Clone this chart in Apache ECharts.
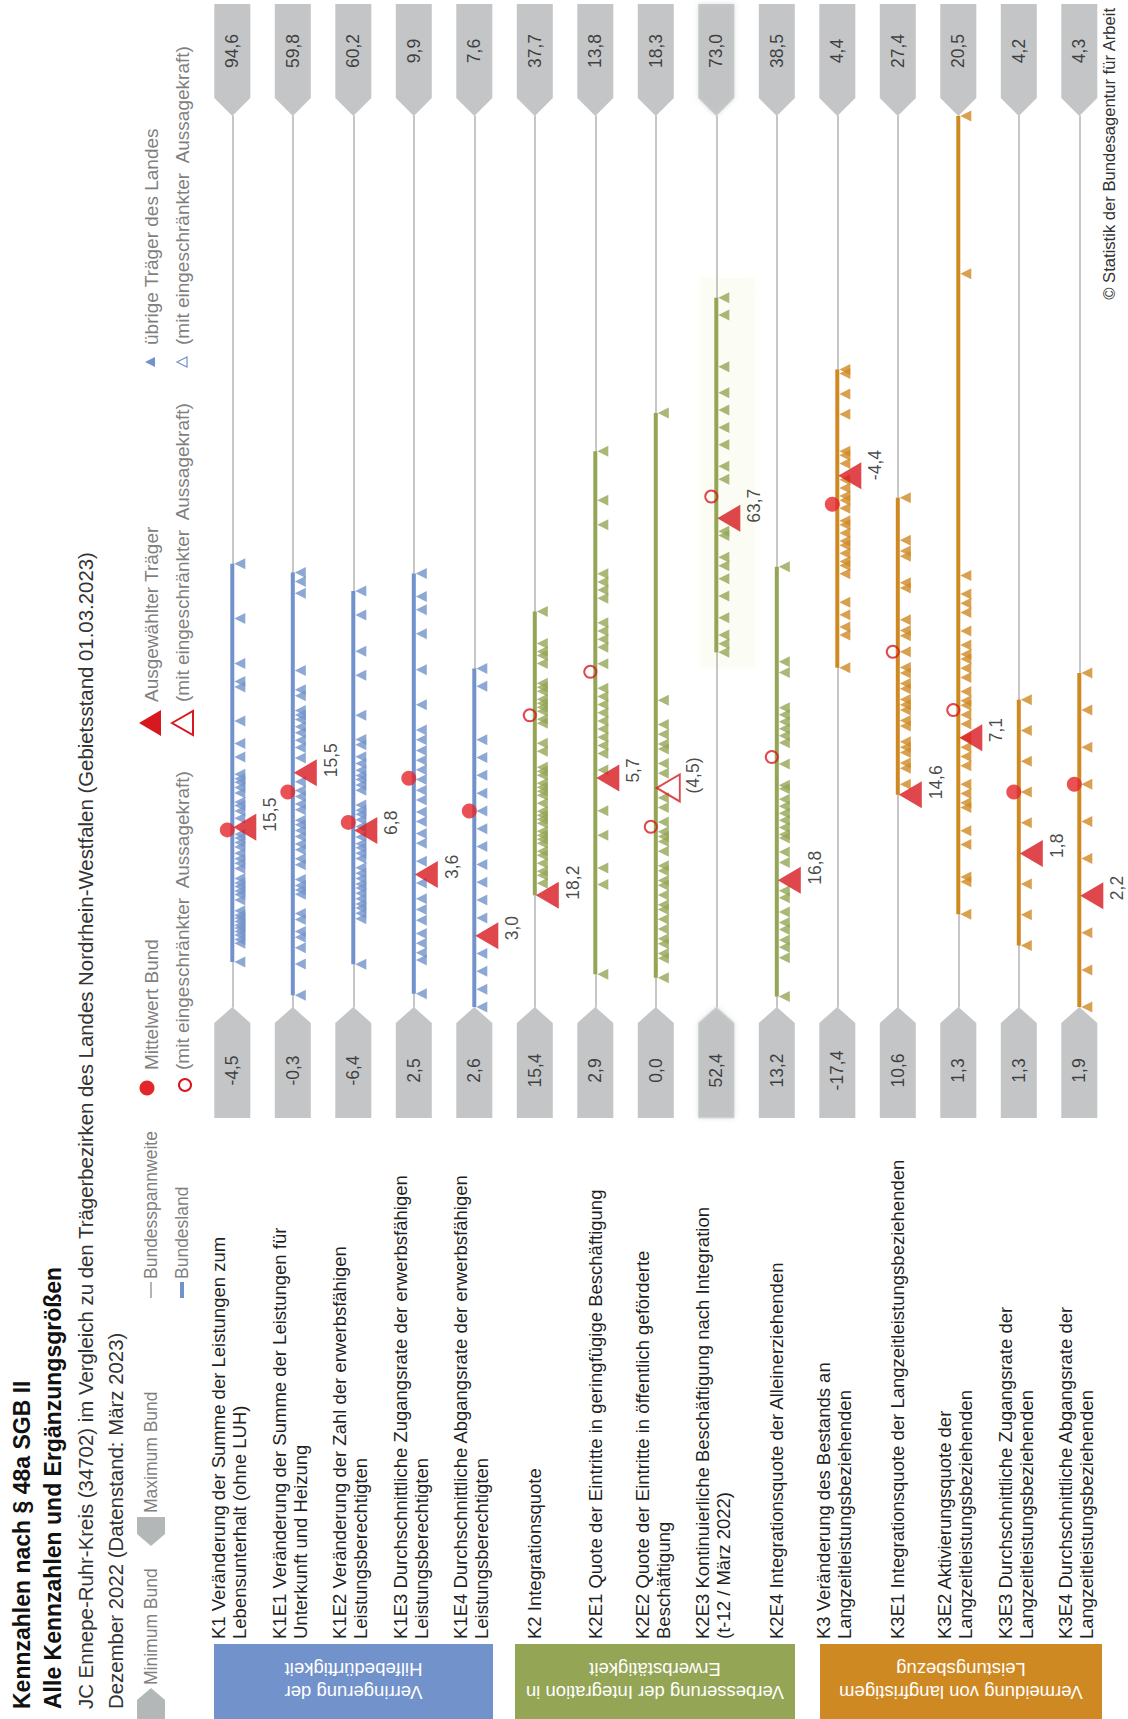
<!DOCTYPE html>
<html>
<head>
<meta charset="utf-8">
<script src="https://cdn.jsdelivr.net/npm/echarts@6/dist/echarts.min.js"></script>
<style>
html, body { margin: 0; padding: 0; background: #fff; overflow: hidden; width: 1128px; height: 1719px; }
#stage { position: absolute; left: 0; top: 0; width: 1719px; height: 1128px; transform-origin: 0 0; transform: translate(0, 1719px) rotate(-90deg); }
</style>
</head>
<body>
<div id="stage"></div>
<script>
// Kennzahlen (one row each), Bundes-Minimum / -Maximum, ausgewählter Träger, Mittelwert Bund
const rowLabels = [
  'K1 Veränderung der Summe der Leistungen zum\nLebensunterhalt (ohne LUH)',
  'K1E1 Veränderung der Summe der Leistungen für\nUnterkunft und Heizung',
  'K1E2 Veränderung der Zahl der erwerbsfähigen\nLeistungsberechtigten',
  'K1E3 Durchschnittliche Zugangsrate der erwerbsfähigen\nLeistungsberechtigten',
  'K1E4 Durchschnittliche Abgangsrate der erwerbsfähigen\nLeistungsberechtigten',
  'K2 Integrationsquote',
  'K2E1 Quote der Eintritte in geringfügige Beschäftigung',
  'K2E2 Quote der Eintritte in öffentlich geförderte\nBeschäftigung',
  'K2E3 Kontinuierliche Beschäftigung nach Integration\n(t-12 / März 2022)',
  'K2E4 Integrationsquote der Alleinerziehenden',
  'K3 Veränderung des Bestands an\nLangzeitleistungsbeziehenden',
  'K3E1 Integrationsquote der Langzeitleistungsbeziehenden',
  'K3E2 Aktivierungsquote der\nLangzeitleistungsbeziehenden',
  'K3E3 Durchschnittliche Zugangsrate der\nLangzeitleistungsbeziehenden',
  'K3E4 Durchschnittliche Abgangsrate der\nLangzeitleistungsbeziehenden',
]
const groupLabels = [
  'Verringerung der\nHilfebedürftigkeit',
  'Verbesserung der Integration in\nErwerbstätigkeit',
  'Vermeidung von langfristigem\nLeistungsbezug',
]
const rowGroup = [0, 0, 0, 0, 0, 1, 1, 1, 1, 1, 2, 2, 2, 2, 2]

const minBund = [-4.5, -0.3, -6.4, 2.5, 2.6, 15.4, 2.9, 0.0, 52.4, 13.2, -17.4, 10.6, 1.3, 1.3, 1.9]
const maxBund = [94.6, 59.8, 60.2, 9.9, 7.6, 37.7, 13.8, 18.3, 73.0, 38.5, 4.4, 27.4, 20.5, 4.2, 4.3]
const selected = [15.5, 15.5, 6.8, 3.6, 3.0, 18.2, 5.7, 4.5, 63.7, 16.8, -4.4, 14.6, 7.1, 1.8, 2.2]
const selectedLimited = [0, 0, 0, 0, 0, 0, 0, 1, 0, 0, 0, 0, 0, 0, 0]
const meanBund = [15.2, 14.2, 7.4, 4.4, 3.7, 22.7, 7.0, 3.7, 64.2, 20.3, -5.1, 17.3, 7.7, 2.0, 2.5]
const meanLimited = [0, 0, 0, 0, 0, 1, 1, 1, 1, 1, 0, 1, 1, 0, 0]

// übrige Träger des Landes, je Kennzahl
const trK1 = [44.8, 38.7, 33.7, 31.7, 31.1, 27.3, 24.8, 23.3, 21.4, 20.9, 20.5, 19.9, 19.3, 18.3, 17.9, 17.3, 16.5, 14.7, 14.3, 13.8, 13.3, 12.6, 12.0, 11.5, 10.9, 9.8, 9.3, 8.9, 8.4, 8.0, 7.4, 6.2, 5.7, 5.4, 5.0, 4.6, 4.3, 3.9, 3.5, 3.0, 2.6, 0.5]
const trK1E1 = [29.0, 28.4, 27.6, 22.4, 21.1, 20.7, 19.7, 19.4, 19.1, 18.6, 18.2, 17.7, 17.2, 16.5, 14.9, 14.3, 13.9, 13.4, 13.0, 12.3, 12.0, 11.6, 11.2, 10.7, 10.3, 9.7, 9.3, 8.3, 7.9, 7.6, 7.3, 6.0, 5.6, 4.8, 4.4, 3.7, 2.6, 0.5]
const trK1E2 = [24.7, 22.9, 20.2, 18.4, 15.4, 13.6, 13.2, 12.3, 11.8, 11.3, 10.9, 10.6, 10.2, 9.8, 8.7, 8.3, 8.0, 7.6, 7.1, 6.3, 5.8, 5.5, 5.1, 4.7, 4.0, 3.6, 3.2, 2.8, 2.5, 2.1, 1.7, 1.3, 1.0, 0.6, 0.2, -3.2]
const trK1E3 = [6.10, 5.91, 5.80, 5.60, 5.30, 5.01, 4.80, 4.72, 4.63, 4.55, 4.47, 4.39, 4.30, 4.22, 4.12, 4.04, 3.94, 3.86, 3.71, 3.53, 3.40, 3.31, 3.22, 3.11, 3.03, 2.95, 2.89, 2.61]
const trK1E4 = [4.5, 4.4, 4.1, 4.0, 3.9, 3.8, 3.7, 3.6, 3.5, 3.4, 3.3, 3.2, 3.1, 2.9, 2.8, 2.7, 2.6]
const trK2 = [25.3, 24.5, 24.3, 24.2, 24.0, 23.5, 23.4, 23.3, 23.1, 23.0, 22.9, 22.8, 22.6, 22.5, 22.0, 21.8, 21.4, 21.3, 21.2, 21.0, 20.9, 20.8, 20.7, 20.5, 20.3, 20.2, 20.1, 20.0, 19.8, 19.7, 19.6, 19.5, 19.3, 19.2, 19.0, 18.8, 18.7, 18.5]
const trK2E1 = [9.7, 9.1, 8.8, 8.2, 8.1, 8.0, 7.9, 7.6, 7.5, 7.4, 7.3, 7.1, 6.8, 6.7, 6.6, 6.5, 6.4, 6.3, 6.2, 6.1, 6.0, 5.8, 5.3, 5.0, 4.6, 4.4, 3.3]
const trK2E2 = [12.2, 6.3, 5.8, 5.6, 5.4, 5.3, 5.0, 4.8, 4.3, 4.1, 3.8, 3.6, 3.5, 3.4, 3.2, 2.9, 2.8, 2.6, 2.5, 2.3, 2.1, 2.0, 1.8, 1.6, 1.4, 1.3, 1.1, 1.0, 0.6]
const trK2E3 = [68.8, 68.4, 67.2, 66.6, 66.2, 65.8, 65.4, 64.9, 64.6, 63.4, 63.3, 62.8, 62.6, 62.3, 61.9, 61.4, 61.0, 60.8, 60.6]
const trK2E4 = [25.7, 23.0, 22.7, 21.7, 21.5, 21.3, 21.1, 20.9, 20.7, 20.1, 19.5, 19.4, 19.1, 18.9, 18.7, 18.5, 18.3, 18.1, 18.0, 17.6, 17.3, 16.5, 16.3, 15.9, 15.6, 15.4, 15.1, 14.9, 14.6, 13.5]
const trK3 = [-1.8, -1.9, -2.4, -2.9, -3.8, -3.9, -4.1, -4.5, -4.7, -4.9, -5.0, -5.2, -5.5, -5.6, -5.8, -6.0, -6.1, -6.3, -6.5, -6.6, -6.8, -7.5, -7.8, -8.1, -8.3, -9.1]
const trK3E1 = [20.2, 19.4, 19.2, 19.1, 18.6, 18.5, 17.9, 17.7, 17.6, 17.3, 17.0, 16.9, 16.7, 16.6, 16.4, 16.3, 16.2, 16.0, 15.9, 15.6, 15.5, 15.4, 15.2, 15.1, 14.8]
const trK3E2 = [20.5, 17.1, 10.6, 10.2, 10.0, 9.8, 9.4, 9.1, 8.9, 8.8, 8.6, 8.4, 8.1, 7.9, 7.8, 7.6, 7.4, 7.1, 6.9, 6.7, 6.5, 6.1, 5.9, 5.7, 5.6, 5.1, 4.8, 4.1, 4.0, 3.3]
const trK3E3 = [2.3, 2.2, 2.1, 2.0, 1.9, 1.7, 1.6, 1.5]
const trK3E4 = [2.8, 2.7, 2.6, 2.5, 2.4, 2.3, 2.1, 2.0, 1.9]

const otherCarriers = [trK1, trK1E1, trK1E2, trK1E3, trK1E4, trK2, trK2E1, trK2E2, trK2E3, trK2E4, trK3, trK3E1, trK3E2, trK3E3, trK3E4]

const FONT = '"Liberation Sans", Arial, Helvetica, sans-serif'
const GROUP_COLORS = ['#7292cb', '#94a555', '#cf8923']
const RED = '#d7191f'
const BOX_GRAY = '#b4b7b8'
const W = 1719
const ROW0 = 232.3
const ROW_STEP = 60.5
const LINE_LEFT = 712
const LINE_RIGHT = 1603
const BLURRED_ROW = 8

const rowY = (i) => ROW0 + ROW_STEP * i
const fmt = (v) => v.toFixed(1).replace('.', ',')

const chart = echarts.init(document.getElementById('stage'), null, { renderer: 'svg', width: W, height: 1128 })

const grids = []
const xAxes = []
const yAxes = []
const series = []

rowLabels.forEach((_, i) => {
  const color = GROUP_COLORS[rowGroup[i]]
  grids.push({ left: LINE_LEFT, width: LINE_RIGHT - LINE_LEFT, top: rowY(i) - 20, height: 40 })
  xAxes.push({
    gridIndex: i,
    type: 'value',
    min: minBund[i],
    max: maxBund[i],
    axisLine: { show: true, onZero: true, lineStyle: { color: '#b3b3b3', width: 1.5 } },
    axisTick: { show: false },
    axisLabel: { show: false },
    splitLine: { show: false },
  })
  yAxes.push({ gridIndex: i, type: 'value', min: -1, max: 1, show: false })

  const land = otherCarriers[i].concat([selected[i]])
  series.push({
    type: 'line',
    xAxisIndex: i,
    yAxisIndex: i,
    data: [[Math.min(...land), 0], [Math.max(...land), 0]],
    symbol: 'none',
    silent: true,
    lineStyle: { color, width: 4 },
    z: 2,
  })
  series.push({
    type: 'scatter',
    xAxisIndex: i,
    yAxisIndex: i,
    clip: false,
    data: otherCarriers[i].map((v) => [v, 0]),
    symbol: 'triangle',
    symbolSize: [11, 11],
    symbolOffset: [0, 7.5],
    itemStyle: { color },
    z: 3,
  })
  series.push({
    type: 'scatter',
    xAxisIndex: i,
    yAxisIndex: i,
    clip: false,
    data: [[meanBund[i], 0]],
    symbol: 'circle',
    symbolSize: meanLimited[i] ? 12 : 15,
    symbolOffset: [0, -5],
    itemStyle: meanLimited[i]
      ? { color: 'rgba(255,255,255,0)', borderColor: RED, borderWidth: 2 }
      : { color: '#e3262a' },
    z: 4,
  })
  series.push({
    type: 'scatter',
    xAxisIndex: i,
    yAxisIndex: i,
    clip: false,
    data: [[selected[i], 0]],
    symbol: 'triangle',
    symbolSize: [27, 23],
    symbolOffset: [0, 12.5],
    itemStyle: selectedLimited[i]
      ? { color: 'rgba(255,255,255,0)', borderColor: RED, borderWidth: 2 }
      : { color: RED },
    label: {
      show: true,
      position: [9, 37],
      align: 'left',
      verticalAlign: 'middle',
      formatter: () => (selectedLimited[i] ? '(' + fmt(selected[i]) + ')' : fmt(selected[i])),
      color: '#1a1a1a',
      fontSize: 17.5,
      fontFamily: FONT,
    },
    z: 5,
  })
  const boxStyle = { color: BOX_GRAY }
  if (i === BLURRED_ROW) Object.assign(boxStyle, { color: '#babdbe', shadowBlur: 5, shadowColor: 'rgba(200,203,204,0.8)' })
  series.push({
    type: 'scatter',
    xAxisIndex: i,
    yAxisIndex: i,
    clip: false,
    silent: true,
    data: [
      {
        value: [minBund[i], 0],
        symbol: 'path://M0,0L95,0L111,18L95,36L0,36Z',
        symbolSize: [111, 36],
        symbolOffset: [-55.5, 0],
        label: { offset: [-8, 0] },
      },
      {
        value: [maxBund[i], 0],
        symbol: 'path://M0,18L18,0L112,0L112,36L18,36Z',
        symbolSize: [112, 36],
        symbolOffset: [56, 0],
        label: { offset: [9, 0] },
      },
    ],
    itemStyle: boxStyle,
    label: {
      show: true,
      position: 'inside',
      formatter: (p) => fmt(p.value[0]),
      color: '#1a1a1a',
      fontSize: 17.5,
      fontFamily: FONT,
    },
    z: 6,
  })
})

function txt(x, y, text, size, color, extra) {
  return {
    type: 'text',
    x,
    y,
    silent: true,
    style: Object.assign(
      {
        text,
        fill: color,
        fontSize: size,
        fontFamily: FONT,
        align: 'left',
        textAlign: 'left',
        verticalAlign: 'middle',
        textVerticalAlign: 'middle',
      },
      extra || {},
    ),
  }
}

const graphic = []
// header
graphic.push(txt(10, 22, 'Kennzahlen nach § 48a SGB II', 23, '#111', { fontWeight: 'bold' }))
graphic.push(txt(10, 53, 'Alle Kennzahlen und Ergänzungsgrößen', 23, '#111', { fontWeight: 'bold' }))
graphic.push(txt(10, 86, 'JC Ennepe-Ruhr-Kreis (34702) im Vergleich zu den Trägerbezirken des Landes Nordrhein-Westfalen (Gebietsstand 01.03.2023)', 20.4, '#333'))
graphic.push(txt(10, 116, 'Dezember 2022 (Datenstand: März 2023)', 20.4, '#333'))

// legend
const LG1 = 151
const LG2 = 182
const LEG_TEXT = '#7f7f7f'
const LEG_SIZE = 19
const LEG_SIZE_LEFT = 17.5
graphic.push({ type: 'polygon', silent: true, shape: { points: [[0, LG1 - 14], [19, LG1 - 14], [31, LG1], [19, LG1 + 14], [0, LG1 + 14]] }, style: { fill: BOX_GRAY } })
graphic.push(txt(34, LG1, 'Minimum Bund', LEG_SIZE_LEFT, LEG_TEXT))
graphic.push({ type: 'polygon', silent: true, shape: { points: [[173, LG1], [185, LG1 - 14], [202, LG1 - 14], [202, LG1 + 14], [185, LG1 + 14]] }, style: { fill: BOX_GRAY } })
graphic.push(txt(206, LG1, 'Maximum Bund', LEG_SIZE_LEFT, LEG_TEXT))
graphic.push({ type: 'line', silent: true, shape: { x1: 421, y1: LG1, x2: 437, y2: LG1 }, style: { stroke: '#b3b3b3', lineWidth: 2 } })
graphic.push(txt(440, LG1, 'Bundesspannweite', LEG_SIZE_LEFT, LEG_TEXT))
graphic.push({ type: 'line', silent: true, shape: { x1: 421, y1: LG2, x2: 437, y2: LG2 }, style: { stroke: GROUP_COLORS[0], lineWidth: 4 } })
graphic.push(txt(440, LG2, 'Bundesland', LEG_SIZE_LEFT, LEG_TEXT))

graphic.push({ type: 'circle', silent: true, shape: { cx: 631, cy: LG1 - 4, r: 7.5 }, style: { fill: '#e3262a' } })
graphic.push(txt(649, LG1, 'Mittelwert Bund', LEG_SIZE, LEG_TEXT))
graphic.push({ type: 'circle', silent: true, shape: { cx: 634, cy: LG2 + 3, r: 6 }, style: { fill: 'none', stroke: RED, lineWidth: 2 } })
graphic.push(txt(649, LG2, '(mit eingeschränkter  Aussagekraft)', LEG_SIZE, LEG_TEXT))

graphic.push({ type: 'polygon', silent: true, shape: { points: [[996, LG1 - 12], [1009, LG1 + 10], [983, LG1 + 10]] }, style: { fill: RED } })
graphic.push(txt(1017, LG1, 'Ausgewählter Träger', LEG_SIZE, LEG_TEXT))
graphic.push({ type: 'polygon', silent: true, shape: { points: [[996, LG2 - 10], [1008, LG2 + 11], [984, LG2 + 11]] }, style: { fill: 'none', stroke: RED, lineWidth: 2 } })
graphic.push(txt(1017, LG2, '(mit eingeschränkter  Aussagekraft)', LEG_SIZE, LEG_TEXT))

graphic.push({ type: 'polygon', silent: true, shape: { points: [[1357, LG1 - 6], [1362, LG1 + 4], [1352, LG1 + 4]] }, style: { fill: GROUP_COLORS[0] } })
graphic.push(txt(1374, LG1, 'übrige Träger des Landes', LEG_SIZE, LEG_TEXT))
graphic.push({ type: 'polygon', silent: true, shape: { points: [[1357, LG2 - 5], [1362, LG2 + 5], [1352, LG2 + 5]] }, style: { fill: 'none', stroke: GROUP_COLORS[0], lineWidth: 1.2 } })
graphic.push(txt(1374, LG2, '(mit eingeschränkter  Aussagekraft)', LEG_SIZE, LEG_TEXT))

// group boxes
const groupSpans = [[214, 493], [515, 795], [820, 1102]]
groupSpans.forEach((span, g) => {
  graphic.push({ type: 'rect', silent: true, shape: { x: 0, y: span[0], width: 75, height: span[1] - span[0] }, style: { fill: GROUP_COLORS[g] } })
  graphic.push({
    type: 'text',
    silent: true,
    x: 38,
    y: (span[0] + span[1]) / 2,
    rotation: Math.PI / 2,
    style: {
      text: groupLabels[g],
      fill: '#fff',
      fontSize: 18.5,
      fontFamily: FONT,
      lineHeight: 23,
      align: 'center',
      textAlign: 'center',
      verticalAlign: 'middle',
      textVerticalAlign: 'middle',
    },
  })
})

// row labels
rowLabels.forEach((label, i) => {
  const twoLines = label.indexOf('\n') >= 0
  graphic.push(txt(80, rowY(i) - (twoLines ? 3 : 0), label, 18.5, '#1f1f1f', { lineHeight: 21 }))
})

// K2E3 highlight (soft glow in the source)
graphic.push({
  type: 'rect',
  silent: true,
  z: -1,
  shape: { x: 1052, y: 700, width: 389, height: 55 },
  style: { fill: 'rgba(251,252,242,0.7)', shadowBlur: 12, shadowColor: 'rgba(250,251,240,0.9)' },
})

graphic.push(txt(1711, 1109, '© Statistik der Bundesagentur für Arbeit', 16.6, '#333', { align: 'right', textAlign: 'right' }))

chart.setOption({
  animation: false,
  grid: grids,
  xAxis: xAxes,
  yAxis: yAxes,
  series,
  graphic,
})
</script>
</body>
</html>
